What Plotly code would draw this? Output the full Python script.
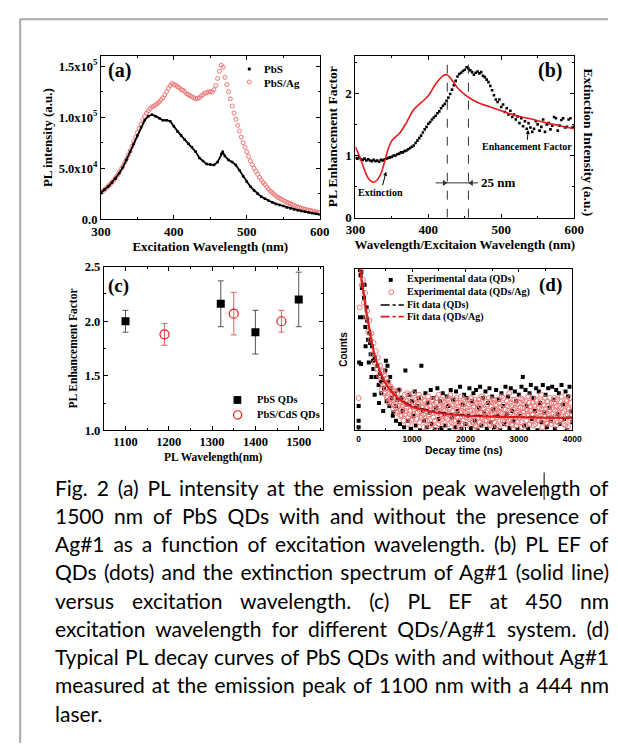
import json
import plotly.graph_objects as go

W, H = 618, 751


def px(x):
    return x / W


def py(y):
    return 1 - y / H


# ---------------- data ----------------
# (a) PL intensity vs excitation wavelength
a_wl = [300, 305, 310, 315, 320, 325, 330, 335, 340, 345, 350, 355, 360, 365, 370, 375, 380, 385, 390, 395,
        400, 405, 410, 415, 420, 425, 430, 435, 440, 445, 450, 455, 460, 465, 467, 470, 475, 480, 485, 490,
        495, 500, 505, 510, 515, 520, 525, 530, 535, 540, 545, 550, 555, 560, 565, 570, 575, 580, 585, 590,
        595, 600]
a_pbs = [26000, 29000, 32000, 36000, 40000, 45000, 51000, 58000, 66000, 74000,
         82000, 90000, 97000, 101000, 102500, 101000, 99000, 97000, 97000, 96000,
         91000, 86000, 82000, 78000, 74000, 70500, 66000, 60000, 57000, 54000,
         53500, 53000, 56000, 64000, 66000,
         62000, 58000, 56000, 53000, 48000, 42000, 37000, 32000, 28000, 25000,
         22000, 20000, 18000, 16500, 15000, 14000, 13000, 11500, 10500, 9500,
         8700, 8000, 7400, 6600, 5800, 5200, 4500]
# PbS/Ag read on a 2.5 nm grid starting at 300 nm
a_pbs_ag = [26000, 27500, 29000, 30500, 32500, 34000, 36000, 38000, 40500, 43000,
            46000, 49000, 52000, 55500, 59000, 63000, 67000, 71500, 76000, 80500,
            85000, 89000, 93000, 97500, 101000, 104000, 106000, 108500, 110000, 111000,
            112000, 113500, 115000, 117000, 119000, 122000, 125000, 128500, 131000, 133000,
            132000, 131500, 130000, 129000, 127000, 126500, 125000, 123000, 122000, 121000,
            120000, 119000, 118000, 118500, 119000, 121000, 122000, 123500, 124000, 125000,
            125000, 124500, 127000, 131000, 138000, 145000, 151000, 149000, 139000, 132000,
            125000, 118000, 111000, 104000, 98000, 92000, 86500, 80500, 75000, 70500,
            66000, 61500, 57000, 53500, 50000, 47000, 44000, 41000, 38500, 36000,
            34000, 31500, 29500, 27500, 26000, 24500, 23000, 21500, 20500, 19500,
            18500, 17500, 16500, 15800, 15000, 14200, 13500, 12700, 12000, 11400,
            10800, 10200, 9600, 9200, 8800, 8400, 8000, 7600, 7200, 6800,
            6400]
a_ag_wl = [300 + 2.5 * i for i in range(len(a_pbs_ag))]
a_yticks = [0, 50000, 100000, 150000]
a_yticktext = ["0.0", "5.0x10<sup>4</sup>", "1.0x10<sup>5</sup>", "1.5x10<sup>5</sup>"]

# (b) PL enhancement factor (dots, 2.5 nm grid) and extinction spectrum
b_ef = [0.96, 0.95, 0.97, 0.94, 0.93, 0.95, 0.92, 0.94, 0.92, 0.91,
        0.93, 0.91, 0.92, 0.90, 0.93, 0.92, 0.94, 0.95, 0.96, 0.97,
        0.98, 1.00, 1.00, 1.02, 1.03, 1.05, 1.05, 1.07, 1.08, 1.10,
        1.12, 1.14, 1.16, 1.20, 1.24, 1.28, 1.32, 1.37, 1.42, 1.46,
        1.51, 1.54, 1.58, 1.61, 1.64, 1.68, 1.71, 1.76, 1.80, 1.83,
        1.88, 1.93, 1.99, 2.06, 2.13, 2.20, 2.27, 2.31, 2.33, 2.36,
        2.38, 2.42, 2.40, 2.37, 2.34, 2.30, 2.33, 2.35, 2.32, 2.34,
        2.28, 2.26, 2.22, 2.18, 2.12, 2.05, 1.97, 1.90, 1.86, 1.90,
        1.78, 1.82, 1.70, 1.76, 1.66, 1.72, 1.62, 1.66, 1.58, 1.63,
        1.52, 1.60, 1.47, 1.55, 1.43, 1.52, 1.45, 1.38, 1.43, 1.55,
        1.50, 1.40, 1.46, 1.58, 1.38, 1.50, 1.52, 1.42, 1.48, 1.62,
        1.60, 1.40, 1.48, 1.57, 1.60, 1.45, 1.46, 1.58, 1.60, 1.45,
        1.46]
b_wl = [300 + 2.5 * i for i in range(len(b_ef))]
b_ext_wl = [300, 305, 310, 315, 320, 325, 330, 335, 340, 345, 350, 355, 360,
            370, 380, 390, 400, 410, 420, 425, 430, 440, 450, 460, 470, 480,
            500, 520, 540, 560, 580, 600]
b_ext = [1.14, 1.00, 0.85, 0.69, 0.60, 0.57, 0.61, 0.71, 0.90, 1.11, 1.24, 1.30, 1.35,
         1.53, 1.74, 1.85, 1.96, 2.15, 2.28, 2.30, 2.25, 2.09, 1.98, 1.90, 1.84, 1.80,
         1.72, 1.64, 1.59, 1.53, 1.48, 1.43]
b_peaks = [426, 455]

# (c) PL enhancement factor at 450 nm excitation
c_pbs_wl = [1100, 1320, 1400, 1500]
c_pbs_ef = [2.00, 2.16, 1.90, 2.20]
c_pbs_err = [0.10, 0.21, 0.20, 0.25]
c_cds_wl = [1190, 1350, 1460]
c_cds_ef = [1.88, 2.07, 2.00]
c_cds_err = [0.10, 0.195, 0.10]

# (d) PL decay (normalised counts x1000)
d_qd_counts = [60, 700, 980, 900, 820, 640, 760, 560, 600, 470,
               520, 380, 450, 330, 400, 280, 350, 230, 320, 260,
               370, 180, 300, 150, 260, 200, 110, 230, 60, 190,
               250, 40, 200, 120, 20, 370, 160, 60, 220, 10,
               180, 90, 240, 30, 150, 200, 0, 400, 120, 60,
               230, 20, 170, 110, 250, 40, 200, 5, 140, 260,
               70, 180, 15, 230, 100, 30, 210, 150, 0, 250,
               80, 190, 20, 240, 120, 50, 270, 10, 160, 220,
               40, 200, 90, 260, 15, 180, 230, 60, 250, 0,
               140, 270, 30, 200, 110, 240, 10, 170, 260, 50,
               210, 130, 20, 250, 90, 190, 0, 230, 150, 40,
               270, 100, 210, 15, 260, 120, 60, 240, 180, 5,
               220, 90, 270, 330, 30, 250, 150, 10, 230, 280,
               70, 200, 120, 260, 0, 240, 170, 50, 280, 110,
               220, 20, 260, 140, 60, 270, 190, 10, 250, 100,
               230, 40, 280, 160, 70, 240, 0, 210, 270, 120,
               50]
d_qd_time = [25 * i for i in range(len(d_qd_counts))]
d_qd_early_time = [0, 0, 10, 35, 45, 60, 85, 110, 130, 160, 190, 215, 240, 270, 300, 340, 380, 420,
                   460, 510, 540, 590, 640, 700]
d_qd_early_counts = [20, 150, 420, 960, 410, 880, 700, 900, 520, 680, 420, 540, 330, 430, 220, 330,
                     170, 300, 120, 430, 400, 330, 90, 150]
d_ag_counts = [200, 760, 990, 900, 930, 790, 850, 700, 740, 610,
               680, 560, 600, 470, 540, 420, 490, 380, 450, 340,
               400, 300, 370, 280, 340, 240, 320, 210, 300, 190,
               270, 170, 250, 160, 240, 140, 230, 120, 250, 90,
               200, 150, 60, 220, 120, 180, 40, 210, 100, 160,
               70, 230, 130, 30, 190, 110, 160, 50, 200, 90,
               140, 20, 180, 120, 60, 210, 100, 150, 40, 190,
               80, 130, 20, 170, 110, 220, 60, 140, 90, 180,
               30, 120, 160, 70, 200, 100, 220, 50, 150, 90,
               190, 20, 130, 170, 60, 110, 210, 40, 140, 90,
               180, 30, 120, 160, 70, 200, 100, 50, 150, 190,
               20, 130, 80, 170, 110, 210, 40, 140, 90, 180,
               60, 120, 200, 30, 150, 100, 170, 50, 130, 80,
               190, 20, 140, 110, 210, 60, 160, 90, 40, 180,
               120, 230, 70, 150, 30, 130, 190, 80, 110, 50,
               170, 100, 200, 20, 140, 90, 180, 60, 120, 210,
               40, 150, 100, 170, 30, 130, 80, 190, 60, 140,
               110, 220, 20, 160, 90, 130, 50, 180, 100, 200,
               40, 140, 80, 170, 120, 30, 190, 100, 150, 60,
               210, 110, 40, 160, 90, 180, 20, 130, 200, 70,
               120]
d_ag_time = [20 * i for i in range(len(d_ag_counts))]
# second set of QDs/Ag channels, starting at 410 ns (20 ns apart)
d_ag_counts_b = [330, 250, 360, 230, 290, 260, 200, 280, 170, 250,
                 200, 230, 130, 210, 170, 110, 200, 150, 180, 130,
                 90, 190, 170, 100, 140, 230, 80, 170, 120, 60,
                 150, 100, 200, 140, 70, 170, 220, 120, 80, 150,
                 100, 190, 60, 140, 170, 90, 30, 130, 180, 110,
                 160, 60, 200, 120, 40, 150, 100, 190, 70, 130,
                 170, 80, 110, 190, 40, 140, 90, 160, 120, 60,
                 100, 200, 80, 150, 20, 170, 120, 60, 190, 110,
                 140, 80, 190, 40, 120, 170, 60, 140, 100, 30,
                 170, 110, 190, 50, 150, 80, 130, 200, 60, 110,
                 160, 90, 40, 180, 120, 70, 190, 110, 160, 30,
                 120, 170, 60, 140, 100, 200, 50, 130, 80, 150,
                 60, 170, 110, 40, 190, 90, 140, 30, 160, 120,
                 80, 140, 50, 190, 110, 160, 30, 130, 90, 170,
                 120, 60, 200, 100, 150, 40, 180, 110, 70, 160,
                 90, 130, 180, 60, 200, 110, 40, 150, 120, 80,
                 170, 60, 130, 200, 90, 150, 50, 110, 180, 140,
                 70, 160, 120, 30, 190, 100, 140, 60, 170, 90]
d_ag_time_b = [410 + 20 * i for i in range(len(d_ag_counts_b))]
d_fit_time = [30, 50, 100, 150, 200, 250, 300, 400, 500, 600, 700, 800, 1000, 1200, 1500, 2000, 2500,
              3000, 3500, 4000]
d_fit_qd = [1000, 960, 840, 725, 630, 535, 460, 360, 290, 243, 212, 186, 152, 133, 112, 95, 88, 83, 80, 79]
d_fit_ag = [1000, 950, 830, 720, 630, 535, 465, 364, 293, 242, 210, 182, 145, 127, 107, 91, 85, 81, 78, 77]

caption_lines = [
    "Fig. 2 (a) PL intensity at the emission peak wavelength of",
    "1500 nm of PbS QDs with and without the presence of",
    "Ag#1 as a function of excitation wavelength. (b) PL EF of",
    "QDs (dots) and the extinction spectrum of Ag#1 (solid line)",
    "versus excitation wavelength. (c) PL EF at 450 nm",
    "excitation wavelength for different QDs/Ag#1 system. (d)",
    "Typical PL decay curves of PbS QDs with and without Ag#1",
    "measured at the emission peak of 1100 nm with a 444 nm",
    "laser.",
]

# ---------------- styles ----------------
SERIF = "Liberation Serif"
SANS = "Liberation Sans"
RED = "#e41a1c"
PINK = "#ee7676"


def sfont(size, family=SERIF, color="black"):
    return dict(family=family, size=size, color=color, weight="bold")


def axis(**kw):
    base = dict(showline=True, linecolor="black", linewidth=1, mirror="ticks", ticks="inside",
                ticklen=4, tickwidth=1, tickcolor="black", showgrid=False, zeroline=False,
                tickfont=sfont(13))
    base.update(kw)
    return base


def minor(d):
    return dict(ticks="inside", ticklen=2, tickcolor="black", dtick=d, showgrid=False)


fig = go.Figure()

# (a)
fig.add_trace(go.Scatter(x=a_ag_wl, y=a_pbs_ag, mode="markers", name="PbS/Ag", xaxis="x", yaxis="y",
                         marker=dict(symbol="circle-open", size=4, color=PINK, line=dict(width=1)),
                         showlegend=False))
fig.add_trace(go.Scatter(x=a_wl, y=a_pbs, mode="lines+markers", name="PbS", xaxis="x", yaxis="y",
                         line=dict(color="black", width=1.8),
                         marker=dict(symbol="square", size=2.5, color="black"), showlegend=False))
# (b)
fig.add_trace(go.Scatter(x=b_wl, y=b_ef, mode="markers", name="Enhancement Factor", xaxis="x2", yaxis="y2",
                         marker=dict(symbol="square", size=2.6, color="black"), showlegend=False))
fig.add_trace(go.Scatter(x=b_ext_wl, y=b_ext, mode="lines", name="Extinction", xaxis="x2", yaxis="y3",
                         line=dict(color=RED, width=1.6, shape="spline"), showlegend=False))
# (c)
fig.add_trace(go.Scatter(x=c_pbs_wl, y=c_pbs_ef, mode="markers", name="PbS QDs", xaxis="x3", yaxis="y4",
                         marker=dict(symbol="square", size=8, color="black"),
                         error_y=dict(type="data", array=c_pbs_err, color="#555555", thickness=1, width=3),
                         showlegend=False))
fig.add_trace(go.Scatter(x=c_cds_wl, y=c_cds_ef, mode="markers", name="PbS/CdS QDs", xaxis="x3", yaxis="y4",
                         marker=dict(symbol="circle-open", size=9, color=RED, line=dict(width=1.2)),
                         error_y=dict(type="data", array=c_cds_err, color="#e86060", thickness=1, width=3),
                         showlegend=False))
# (d)
for tx, cy in ((d_qd_time, d_qd_counts), (d_qd_early_time, d_qd_early_counts)):
    fig.add_trace(go.Scatter(x=tx, y=cy, mode="markers", name="Experimental data (QDs)",
                             xaxis="x4", yaxis="y5", marker=dict(symbol="square", size=4, color="black"),
                             showlegend=False))
for tx, cy in ((d_ag_time, d_ag_counts), (d_ag_time_b, d_ag_counts_b)):
    fig.add_trace(go.Scatter(x=tx, y=cy, mode="markers", name="Experimental data (QDs/Ag)",
                             xaxis="x4", yaxis="y5",
                             marker=dict(symbol="circle-open", size=5, color=PINK, line=dict(width=1)),
                             showlegend=False))
fig.add_trace(go.Scatter(x=d_fit_time, y=d_fit_qd, mode="lines", name="Fit data (QDs)", xaxis="x4", yaxis="y5",
                         line=dict(color="black", width=1.5, dash="dashdot", shape="spline"), showlegend=False))
fig.add_trace(go.Scatter(x=d_fit_time, y=d_fit_ag, mode="lines", name="Fit data (QDs/Ag)", xaxis="x4",
                         yaxis="y5", line=dict(color=RED, width=2, shape="spline"), showlegend=False))

layout = dict(
    width=W, height=H, autosize=False, margin=dict(l=0, r=0, t=0, b=0),
    paper_bgcolor="white", plot_bgcolor="white", showlegend=False,
    xaxis=axis(domain=[px(94), px(320)], range=[300, 600], dtick=100, anchor="y", minor=minor(50),
               title=dict(text="Excitation Wavelength (nm)", font=sfont(13), standoff=2)),
    yaxis=axis(domain=[py(216.5), py(50)], range=[0, 160000], tickvals=a_yticks, ticktext=a_yticktext,
               anchor="x", minor=minor(25000), tickfont=sfont(12.5),
               title=dict(text="PL intensity (a.u.)", font=sfont(13), standoff=3)),
    xaxis2=axis(domain=[px(357), px(583)], range=[300, 600], dtick=100, anchor="y2", minor=minor(50),
                title=dict(text="Wavelength/Excitaion Wavelength (nm)", font=sfont(13), standoff=2)),
    yaxis2=axis(domain=[py(215), py(50)], range=[0, 2.6], tickvals=[0, 1, 2], anchor="x2", minor=minor(0.5),
                title=dict(text="PL Enhancement Factor", font=sfont(13.5), standoff=4)),
    yaxis3=dict(overlaying="y2", side="right", range=[0, 2.6], anchor="x2", showticklabels=False,
                showline=False, showgrid=False, zeroline=False, ticks=""),
    xaxis3=axis(domain=[px(97), px(323)], range=[1050, 1555], tickvals=[1100, 1200, 1300, 1400, 1500],
                anchor="y4", minor=minor(50), tickfont=sfont(12.5),
                title=dict(text="PL Wavelength(nm)", font=sfont(11.5), standoff=4)),
    yaxis4=axis(domain=[py(432), py(265)], range=[1.0, 2.5], dtick=0.5, tickformat=".1f", anchor="x3",
                minor=minor(0.25), tickfont=sfont(12.5),
                title=dict(text="PL Enhancement Factor", font=sfont(11.5), standoff=4)),
    xaxis4=axis(domain=[px(357), px(581)], range=[-60, 4000], dtick=1000, anchor="y5", ticklen=3,
                tickfont=sfont(8.5, SANS), minor=minor(500),
                title=dict(text="Decay time (ns)", font=sfont(10.5, SANS), standoff=2)),
    yaxis5=axis(domain=[py(432), py(267)], range=[0, 1000], anchor="x4", showticklabels=False, ticks="",
                title=dict(text="Counts", font=sfont(10, SANS), standoff=4)),
)
fig.update_layout(**layout)

ann = []
shapes = []


def text(xp, yp, t, size, family=SERIF, xanchor="center", color="black", angle=0):
    ann.append(dict(xref="paper", yref="paper", x=px(xp), y=py(yp), text=t, showarrow=False,
                    xanchor=xanchor, yanchor="middle", textangle=angle,
                    font=sfont(size, family, color)))


def paper_line(x0, y0, x1, y1, color, width, dash="solid"):
    shapes.append(dict(type="line", xref="paper", yref="paper", x0=px(x0), x1=px(x1), y0=py(y0), y1=py(y1),
                       line=dict(color=color, width=width, dash=dash)))


# panel labels
text(113, 65, "(a)", 20)
text(558, 65, "(b)", 20)
text(112, 285, "(c)", 19)
text(559, 284, "(d)", 19)

# legend (a)
shapes.append(dict(type="rect", xref="paper", yref="paper", x0=px(245.8), x1=px(248.8), y0=py(61.8), y1=py(64.8),
                   fillcolor="black", line=dict(width=0)))
shapes.append(dict(type="circle", xref="paper", yref="paper", x0=px(245.3), x1=px(249.3), y0=py(74.5), y1=py(78.5),
                   line=dict(color=PINK, width=1)))
text(260, 63, "PbS", 11, xanchor="left")
text(260, 78, "PbS/Ag", 11, xanchor="left")

# legend (c)
shapes.append(dict(type="rect", xref="paper", yref="paper", x0=px(231), x1=px(239), y0=py(397), y1=py(405),
                   fillcolor="black", line=dict(width=0)))
shapes.append(dict(type="circle", xref="paper", yref="paper", x0=px(231), x1=px(239.5), y0=py(412), y1=py(420.5),
                   line=dict(color=RED, width=1.2)))
text(253, 401, "PbS QDs", 10.5, xanchor="left")
text(253, 416, "PbS/CdS QDs", 10.5, xanchor="left")

# legend (d)
shapes.append(dict(type="rect", xref="paper", yref="paper", x0=px(391.5), x1=px(395.5), y0=py(276.5), y1=py(280.5),
                   fillcolor="black", line=dict(width=0)))
shapes.append(dict(type="circle", xref="paper", yref="paper", x0=px(391.5), x1=px(396.5), y0=py(288.5), y1=py(293.5),
                   line=dict(color=PINK, width=1)))
paper_line(383, 304, 407, 304, "black", 1.5, "dashdot")
paper_line(383, 316, 407, 316, RED, 1.8, "dashdot")
text(408, 278, "Experimental data (QDs)", 10, xanchor="left")
text(408, 291, "Experimental data (QDs/Ag)", 10, xanchor="left")
text(408, 304, "Fit data (QDs)", 10, xanchor="left")
text(408, 316, "Fit data (QDs/Ag)", 10, xanchor="left")

# (b) decorations: peak markers, 25 nm shift arrows
for wl in b_peaks:
    shapes.append(dict(type="line", xref="x2", yref="y2", x0=wl, x1=wl, y0=0, y1=2.6,
                       line=dict(color="#333333", width=1, dash="dash")))
shapes.append(dict(type="line", xref="x2", yref="y2", x0=410, x1=468, y0=0.56, y1=0.56,
                   line=dict(color="#333333", width=1)))
shapes.append(dict(type="path", xref="x2", yref="y2",
                   path=f"M {b_peaks[0]} 0.56 L {b_peaks[0] - 6} 0.51 L {b_peaks[0] - 6} 0.61 Z",
                   fillcolor="#333333", line=dict(width=0)))
shapes.append(dict(type="path", xref="x2", yref="y2",
                   path=f"M {b_peaks[1]} 0.56 L {b_peaks[1] + 6} 0.51 L {b_peaks[1] + 6} 0.61 Z",
                   fillcolor="#333333", line=dict(width=0)))
ann.append(dict(xref="x2", yref="y2", x=470, y=0.56, text="25 nm", showarrow=False, xanchor="left",
                yanchor="middle", font=sfont(13)))
ann.append(dict(xref="x2", yref="y2", axref="x2", ayref="y2", x=342, y=0.74, ax=335, ay=0.41,
                text="Extinction", showarrow=True, arrowhead=2, arrowsize=0.8, arrowwidth=1,
                arrowcolor="black", font=sfont(10)))
ann.append(dict(xref="x2", yref="y2", axref="x2", ayref="y2", x=537, y=1.41, ax=535, ay=1.14,
                text="Enhancement Factor", showarrow=True, arrowhead=2, arrowsize=0.8, arrowwidth=1,
                arrowcolor="black", font=sfont(10)))
text(598, 138, "Extinction Intensity (a.u.)", 13.5, angle=90)

# outer frame of the page
paper_line(10, 12.5, W, 12.5, "#a8a8a8", 2)
paper_line(10.5, 12.5, 10.5, H, "#a8a8a8", 2)
# text cursor in caption
paper_line(552, 475, 552, 503, "black", 1)

# caption
CAP_LEFT, CAP_RIGHT = 44, 609
for i, line in enumerate(caption_lines):
    ann.append(dict(xref="paper", yref="paper", x=px(CAP_LEFT), y=py(490 + 28.8 * i), text=line,
                    showarrow=False, xanchor="left", yanchor="middle", align="left",
                    font=dict(family="Lato", size=21, color="black")))

fig.update_layout(annotations=ann, shapes=shapes)

post = """
document.documentElement.style.margin = '0';
document.documentElement.style.padding = '0';
document.body.style.margin = '0';
document.body.style.padding = '0';
document.body.style.overflow = 'hidden';
var gdiv = document.querySelector('.plotly-graph-div');
if (gdiv) { gdiv.style.position = 'fixed'; gdiv.style.left = '0px'; gdiv.style.top = '0px'; }
var capLines = %s, capRight = %f;
function justifyCaption() {
  var svg = document.querySelector('svg.main-svg');
  if (!svg) return;
  var x0 = svg.getBoundingClientRect().left;
  document.querySelectorAll('text.annotation-text').forEach(function (el) {
    var t = el.textContent;
    var i = capLines.indexOf(t);
    if (i < 0 || i >= capLines.length - 1) return;
    var n = (t.match(/ /g) || []).length;
    if (!n) return;
    var s = 0;
    for (var k = 0; k < 4; k++) {
      var r = el.getBoundingClientRect().right - x0;
      s += (capRight - r) / n;
      el.style.wordSpacing = s + 'px';
    }
  });
}
if (document.fonts && document.fonts.ready) { document.fonts.ready.then(justifyCaption); }
else { justifyCaption(); }
""" % (json.dumps(caption_lines), CAP_RIGHT)

fig.write_html("out.html", post_script=post, config={"displayModeBar": False})
